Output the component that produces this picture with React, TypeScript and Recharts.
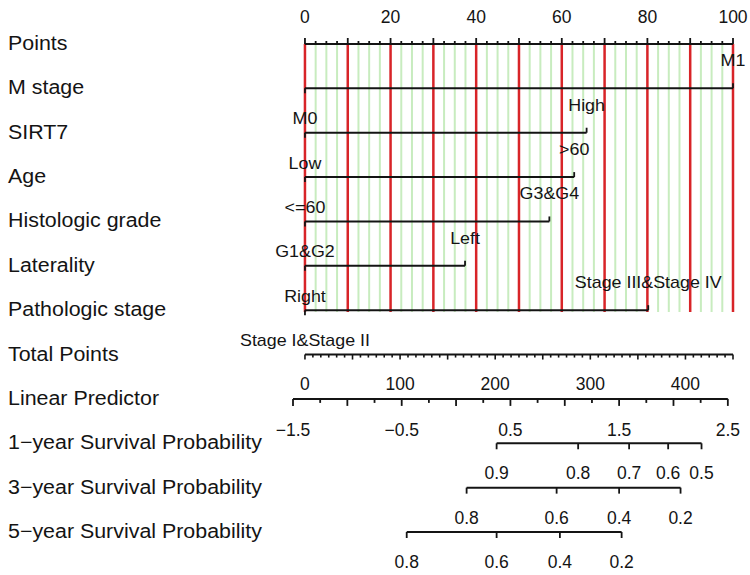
import React from "react";
import { ComposedChart, ReferenceLine, Scatter, XAxis, YAxis } from "recharts";

const FONT = '"Liberation Sans", Arial, Helvetica, sans-serif';
const INK = "#141414";
const RED = "#d82428";
const GREEN = "#c8ecbf";

// row captions, top to bottom
const rowNames = [
  "Points",
  "M stage",
  "SIRT7",
  "Age",
  "Histologic grade",
  "Laterality",
  "Pathologic stage",
  "Total Points",
  "Linear Predictor",
  "1\u2212year Survival Probability",
  "3\u2212year Survival Probability",
  "5\u2212year Survival Probability",
];

// predictor levels and the points of the upper level (lower level = 0)
const lowLevels = ["M0", "Low", "<=60", "G1&G2", "Right", "Stage I&Stage II"];
const highLevels = ["M1", "High", ">60", "G3&G4", "Left", "Stage III&Stage IV"];
const highPoints = [100, 65.8, 62.9, 57.1, 37.4, 80.2];

// axis labels
const pointsLabels = [0, 20, 40, 60, 80, 100];
const totalPointsLabels = [0, 100, 200, 300, 400];
const lpLabels = [-1.5, -0.5, 0.5, 1.5, 2.5];

// survival probabilities and the linear predictor where they sit
const surv1Probs = [0.9, 0.8, 0.7, 0.6, 0.5];
const surv1Lp = [0.373, 1.123, 1.592, 1.951, 2.258];
const surv3Probs = [0.8, 0.6, 0.4, 0.2];
const surv3Lp = [0.097, 0.925, 1.5, 2.065];
const surv5Probs = [0.8, 0.6, 0.4, 0.2];
const surv5Lp = [-0.454, 0.373, 0.955, 1.523];

// scale links: 450 total points span the 100-point axis, lp = a + b * total
const maxTotal = 450;
const tpPerPoint = maxTotal / 100;
const lpAtTp0 = -1.39;
const lpPerTp = 0.00875;

const leftTp = Math.min(0, (lpLabels[0] - lpAtTp0) / lpPerTp);
const pointsDomain = [leftTp / tpPerPoint, 100];
const tpDomain = [leftTp, maxTotal];
const lpDomain = [lpAtTp0 + leftTp * lpPerTp - 1e-6, lpAtTp0 + maxTotal * lpPerTp];

const range = (from: number, to: number, step: number) => {
  const out: number[] = [];
  const n = Math.round((to - from) / step);
  for (let i = 0; i <= n; i++) out.push(from + i * step);
  return out;
};
const near = (a: number, b: number) => Math.abs(a - b) < 1e-6;
const isMultiple = (v: number, m: number) => near(v / m, Math.round(v / m));
const fmt = (v: number) => (v < 0 ? "\u2212" + Math.abs(v) : String(v));

const pointsRow = range(0, 100, 2.5).map((x) => ({ x, y: 0 }));
const totalRow = range(0, maxTotal, 50 / 6).map((x) => ({ x, y: 7 }));
const lpRow = range(-1.5, 2.5, 0.25).map((x) => ({ x, y: 8 }));
const survRows = [
  surv1Lp.map((x, i) => ({ x, y: 9, label: surv1Probs[i].toFixed(1) })),
  surv3Lp.map((x, i) => ({ x, y: 10, label: surv3Probs[i].toFixed(1) })),
  surv5Lp.map((x, i) => ({ x, y: 11, label: surv5Probs[i].toFixed(1) })),
];
const levelRows = highPoints.map((hp, i) => [
  { x: 0, y: i + 1, label: lowLevels[i] },
  { x: hp, y: i + 1, label: highLevels[i] },
]);

const gridRed = range(0, 100, 10);
const gridGreen = range(0, 100, 2.5).filter((v) => !isMultiple(v, 10));

const TICK_FS = 17.5;

const Label = ({ x, y, text, size, sx = 1, anchor = "middle" }: any) => (
  <text
    transform={`translate(${x} ${y}) scale(${sx} 1)`}
    textAnchor={anchor}
    fontFamily={FONT}
    fontSize={size}
    fill={INK}
  >
    {text}
  </text>
);

const pointsShape = (p: any) => {
  const { cx, cy, payload } = p;
  const major = isMultiple(payload.x, 10);
  const lab = pointsLabels.find((v) => near(v, payload.x));
  return (
    <g>
      <line x1={cx} x2={cx} y1={cy} y2={cy - (major ? 6 : 3)} stroke={INK} strokeWidth={1.8} />
      {lab !== undefined && <Label x={cx} y={cy - 21} text={String(lab)} size={TICK_FS} />}
    </g>
  );
};

const levelShape = (p: any) => {
  const { cx, cy, payload } = p;
  const high = payload.x > 0;
  return (
    <g>
      <line x1={cx} x2={cx} y1={cy} y2={high ? cy - 5 : cy + 5} stroke={INK} strokeWidth={1.8} />
      <Label x={cx} y={high ? cy - 22 : cy + 36} text={payload.label} size={17} sx={1.05} />
    </g>
  );
};

const totalShape = (p: any) => {
  const { cx, cy, payload } = p;
  const major = isMultiple(payload.x, 50);
  const lab = totalPointsLabels.find((v) => near(v, payload.x));
  return (
    <g>
      <line x1={cx} x2={cx} y1={cy} y2={cy + (major ? 5 : 3)} stroke={INK} strokeWidth={1.6} />
      {lab !== undefined && <Label x={cx} y={cy + 35} text={String(lab)} size={TICK_FS} />}
    </g>
  );
};

const lpShape = (p: any) => {
  const { cx, cy, payload } = p;
  const major = isMultiple(payload.x, 0.5);
  const lab = lpLabels.find((v) => near(v, payload.x));
  return (
    <g>
      <line x1={cx} x2={cx} y1={cy} y2={cy + (major ? 7 : 4)} stroke={INK} strokeWidth={1.8} />
      {lab !== undefined && <Label x={cx} y={cy + 37} text={fmt(lab)} size={TICK_FS} />}
    </g>
  );
};

const survShape = (p: any) => {
  const { cx, cy, payload } = p;
  return (
    <g>
      <line x1={cx} x2={cx} y1={cy} y2={cy + 6} stroke={INK} strokeWidth={1.8} />
      <Label x={cx} y={cy + 36} text={payload.label} size={TICK_FS} />
    </g>
  );
};

const rowCaption = (p: any) => (
  <Label x={8} y={p.y + 6} text={rowNames[p.payload.value]} size={20} sx={1.07} anchor="start" />
);

const axisLine = { stroke: INK, strokeWidth: 2 };

export default function App() {
  return (
    <div style={{ position: "absolute", left: 0, top: 0, background: "#fff" }}>
      <ComposedChart width={750} height={575} margin={{ top: 44, right: 17, bottom: 43, left: 0 }}>
        <XAxis xAxisId="pts" type="number" dataKey="x" domain={pointsDomain} hide />
        <XAxis xAxisId="tp" type="number" dataKey="x" domain={tpDomain} hide />
        <XAxis xAxisId="lp" type="number" dataKey="x" domain={lpDomain} hide />
        <YAxis
          type="number"
          dataKey="y"
          domain={[0, 11]}
          reversed
          ticks={rowNames.map((_, i) => i)}
          interval={0}
          width={293}
          axisLine={false}
          tickLine={false}
          tick={rowCaption}
        />

        {gridGreen.map((v) => (
          <ReferenceLine
            key={`g${v}`}
            xAxisId="pts"
            segment={[{ x: v, y: 0 }, { x: v, y: 6.04 }]}
            stroke={GREEN}
            strokeWidth={2}
          />
        ))}
        {gridRed.map((v) => (
          <ReferenceLine
            key={`r${v}`}
            xAxisId="pts"
            segment={[{ x: v, y: 0 }, { x: v, y: 6.04 }]}
            stroke={RED}
            strokeWidth={2.5}
          />
        ))}

        <Scatter xAxisId="pts" data={pointsRow} line={axisLine} shape={pointsShape} isAnimationActive={false} />
        {levelRows.map((row, i) => (
          <Scatter
            key={rowNames[i + 1]}
            xAxisId="pts"
            data={row}
            line={axisLine}
            shape={levelShape}
            isAnimationActive={false}
          />
        ))}
        <Scatter xAxisId="tp" data={totalRow} line={axisLine} shape={totalShape} isAnimationActive={false} />
        <Scatter xAxisId="lp" data={lpRow} line={axisLine} shape={lpShape} isAnimationActive={false} />
        {survRows.map((row, i) => (
          <Scatter
            key={`s${i}`}
            xAxisId="lp"
            data={row}
            line={axisLine}
            shape={survShape}
            isAnimationActive={false}
          />
        ))}
      </ComposedChart>
    </div>
  );
}
